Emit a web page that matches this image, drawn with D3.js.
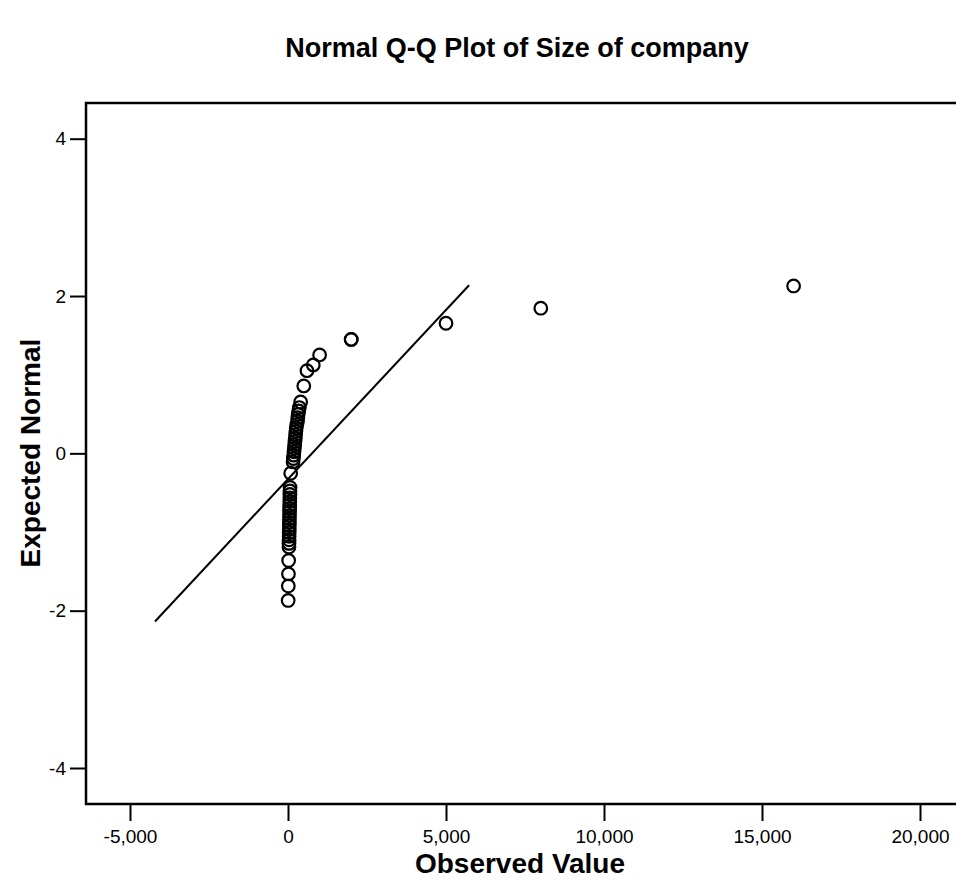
<!DOCTYPE html>
<html>
<head>
<meta charset="utf-8">
<script src="https://cdn.jsdelivr.net/npm/d3@7"></script>
<style>
  body { margin: 0; background: #fff; }
  text { font-family: "Liberation Sans", Arial, sans-serif; }
</style>
</head>
<body>
<div id="qq"></div>
<script>
// observed value (size of company) and expected normal value for each plotted point
const observed = [5, 10, 15, 20,
  30, 32, 34, 36, 38, 40, 42, 44, 46, 48, 50, 52, 54, 56, 58, 60, 62, 65,
  85,
  160, 170, 180, 190, 200, 210, 220, 230, 240, 250, 260, 280, 300, 310, 320, 340, 360,
  400, 500, 600, 800, 1000, 2000, 2000, 5000, 8000, 16000];
const expected = [-1.87, -1.686, -1.533, -1.362,
  -1.19, -1.145, -1.10, -1.055, -1.01, -0.966, -0.92, -0.877, -0.833, -0.788, -0.744, -0.70, -0.656, -0.61, -0.567, -0.523, -0.478, -0.434,
  -0.253,
  -0.109, -0.066, -0.023, 0.020, 0.064, 0.107, 0.150, 0.193, 0.236, 0.280, 0.323, 0.366, 0.409, 0.453, 0.496, 0.539, 0.582,
  0.653, 0.857, 1.051, 1.124, 1.251, 1.448, 1.448, 1.654, 1.845, 2.128];

// reference line ends (observed, expected)
const lineObserved = [-4210, 5730];
const lineExpected = [-2.137, 2.137];

const xTicks = [-5000, 0, 5000, 10000, 15000, 20000];
const yTicks = [-4, -2, 0, 2, 4];

const width = 956, height = 888;
const frameLeft = 86, frameTop = 103, frameBottom = 804;

const svg = d3.select("#qq").append("svg")
  .attr("width", width)
  .attr("height", height);

const x = d3.scaleLinear().domain([-5000, 20000]).range([130, 920]);
const y = d3.scaleLinear().domain([-4, 4]).range([768, 138.7]);

// plain hyphen for negatives, like the original
const fmtX = d => d3.format(",")(d).replace("\u2212", "-");
const fmtY = d => String(d);

svg.append("text")
  .attr("x", 517)
  .attr("y", 57)
  .attr("text-anchor", "middle")
  .attr("font-size", 27)
  .attr("font-weight", "bold")
  .text("Normal Q-Q Plot of Size of company");

// axes
let yAxis = svg.append("g")
  .attr("transform", `translate(${frameLeft},0)`)
  .call(d3.axisLeft(y).tickValues(yTicks).tickFormat(fmtY).tickSize(16).tickSizeOuter(0).tickPadding(4));

let xAxis = svg.append("g")
  .attr("transform", `translate(0,${frameBottom})`)
  .call(d3.axisBottom(x).tickValues(xTicks).tickFormat(fmtX).tickSize(17).tickSizeOuter(0).tickPadding(9));

[yAxis, xAxis].forEach(a => {
  a.select(".domain").remove();
  a.selectAll("line").attr("stroke", "#000").attr("stroke-width", 2);
  a.selectAll("text").attr("font-size", 19).attr("fill", "#000")
    .style("font-family", "'Liberation Sans', Arial, sans-serif");
});

// frame
svg.append("rect")
  .attr("x", frameLeft)
  .attr("y", frameTop)
  .attr("width", width + 20 - frameLeft)
  .attr("height", frameBottom - frameTop)
  .attr("fill", "none")
  .attr("stroke", "#000")
  .attr("stroke-width", 2.5);

// reference line
svg.append("line")
  .attr("x1", x(lineObserved[0]))
  .attr("y1", y(lineExpected[0]))
  .attr("x2", x(lineObserved[1]))
  .attr("y2", y(lineExpected[1]))
  .attr("stroke", "#000")
  .attr("stroke-width", 2);

// points
svg.append("g")
  .selectAll("circle")
  .data(observed)
  .join("circle")
  .attr("cx", d => x(d))
  .attr("cy", (d, i) => y(expected[i]))
  .attr("r", 6.3)
  .attr("fill", "none")
  .attr("stroke", "#000")
  .attr("stroke-width", 2.2);

// axis titles
svg.append("text")
  .attr("x", 520)
  .attr("y", 873)
  .attr("text-anchor", "middle")
  .attr("font-size", 28)
  .attr("font-weight", "bold")
  .text("Observed Value");

svg.append("text")
  .attr("transform", "translate(40,453) rotate(-90)")
  .attr("text-anchor", "middle")
  .attr("font-size", 28)
  .attr("font-weight", "bold")
  .text("Expected Normal");
</script>
</body>
</html>
